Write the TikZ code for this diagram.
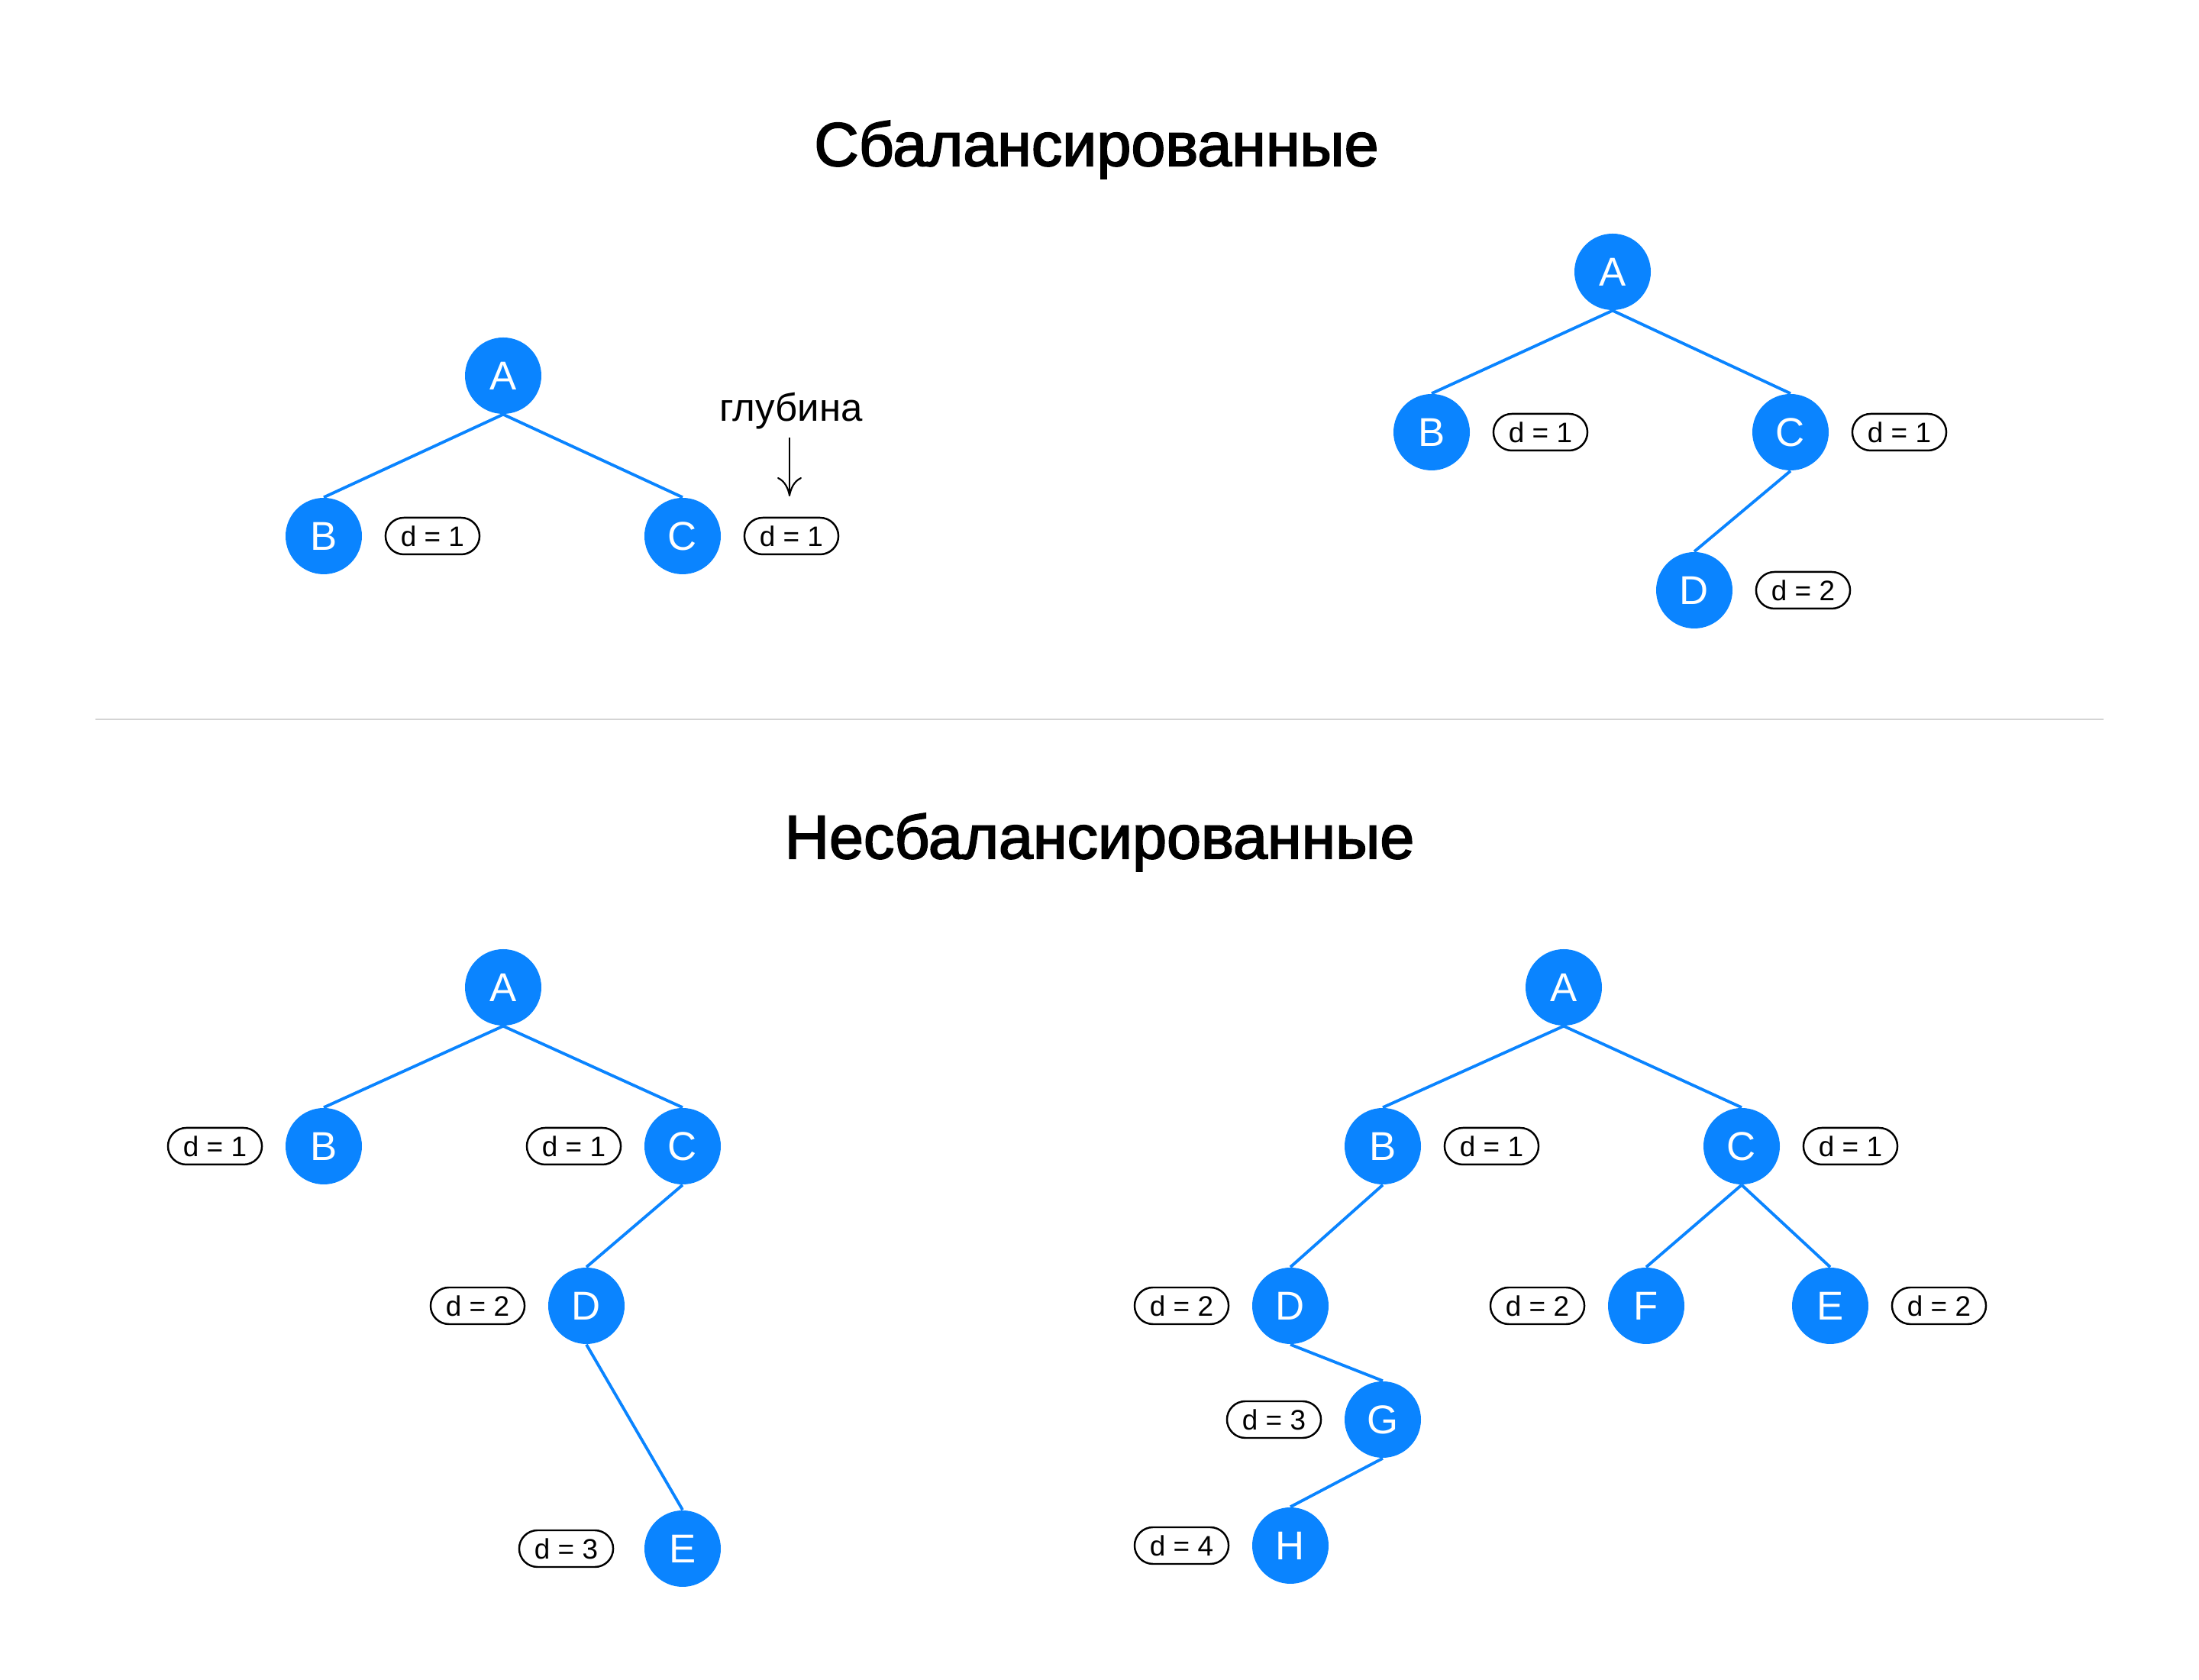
\documentclass[tikz,border=0pt]{standalone}
\usepackage{fontspec}
\setmainfont{Liberation Sans}
\newfontfamily\headfont{Liberation Sans}[FakeBold=2.2]
\usetikzlibrary{positioning,arrows.meta}
\definecolor{treeblue}{HTML}{0A84FF}
\definecolor{rulegray}{HTML}{D4D4D4}

\begin{document}
\begin{tikzpicture}[
		vertex/.style={circle,fill=treeblue,text=white,minimum size=1cm,
			inner sep=0pt,font=\fontsize{15}{18}\selectfont},
		depth/.style={draw=black,line width=0.7pt,rounded corners=0.24cm,
			minimum height=0.48cm,inner xsep=0.2cm,inner ysep=0pt,
			font=\fontsize{10.5}{12}\selectfont},
		edge/.style={treeblue,line width=1.1pt},
		title/.style={font=\headfont\fontsize{23}{28}\selectfont}
		]
		\useasboundingbox (0,0) rectangle (28.8,22);

		% balanced
		\node[title] (t1) at (14.36,20.04) {Сбалансированные};

		\node[vertex] (a1) at (6.59,17.08) {A};
		\node[vertex] (b1) at (4.24,14.98) {B};
		\node[vertex] (c1) at (8.94,14.98) {C};
		\node[depth,right=0.29cm of b1] (db1) {d = 1};
		\node[depth,right=0.29cm of c1] (dc1) {d = 1};
		\node[font=\fontsize{14.5}{17}\selectfont] (depthword) at (10.36,16.62) {глубина};
		\coordinate (depthtip) at (10.34,15.50);

		\draw[edge] (a1.south) -- (b1.north);
		\draw[edge] (a1.south) -- (c1.north);
		\draw[-{To[length=2.5mm,width=3.2mm]},line width=0.6pt] (10.34,16.27) -- (depthtip);

		\node[vertex] (a2) at (21.12,18.44) {A};
		\node[vertex] (b2) at (18.75,16.34) {B};
		\node[vertex] (c2) at (23.45,16.34) {C};
		\node[vertex] (d2) at (22.19,14.27) {D};
		\node[depth,right=0.29cm of b2] (db2) {d = 1};
		\node[depth,right=0.29cm of c2] (dc2) {d = 1};
		\node[depth,right=0.29cm of d2] (dd2) {d = 2};

		\draw[edge] (a2.south) -- (b2.north);
		\draw[edge] (a2.south) -- (c2.north);
		\draw[edge] (c2.south) -- (d2.north);

		\draw[rulegray,line width=0.6pt] (1.25,12.58) -- (27.55,12.58);

		% unbalanced
		\node[title] (t2) at (14.40,10.97) {Несбалансированные};

		\node[vertex] (a3) at (6.59,9.07) {A};
		\node[vertex] (b3) at (4.24,6.99) {B};
		\node[vertex] (c3) at (8.94,6.99) {C};
		\node[vertex] (d3) at (7.68,4.90) {D};
		\node[vertex] (e3) at (8.94,1.72) {E};
		\node[depth,left=0.29cm of b3] (db3) {d = 1};
		\node[depth,left=0.29cm of c3] (dc3) {d = 1};
		\node[depth,left=0.29cm of d3] (dd3) {d = 2};
		\node[depth,left=0.39cm of e3] (de3) {d = 3};

		\draw[edge] (a3.south) -- (b3.north);
		\draw[edge] (a3.south) -- (c3.north);
		\draw[edge] (c3.south) -- (d3.north);
		\draw[edge] (d3.south) -- (e3.north);

		\node[vertex] (a4) at (20.48,9.07) {A};
		\node[vertex] (b4) at (18.11,6.99) {B};
		\node[vertex] (c4) at (22.81,6.99) {C};
		\node[vertex] (d4) at (16.90,4.90) {D};
		\node[vertex] (f4) at (21.56,4.90) {F};
		\node[vertex] (e4) at (23.97,4.90) {E};
		\node[vertex] (g4) at (18.11,3.41) {G};
		\node[vertex] (h4) at (16.90,1.76) {H};
		\node[depth,right=0.29cm of b4] (db4) {d = 1};
		\node[depth,right=0.29cm of c4] (dc4) {d = 1};
		\node[depth,left=0.29cm of d4] (dd4) {d = 2};
		\node[depth,left=0.29cm of f4] (df4) {d = 2};
		\node[depth,right=0.29cm of e4] (de4) {d = 2};
		\node[depth,left=0.29cm of g4] (dg4) {d = 3};
		\node[depth,left=0.29cm of h4] (dh4) {d = 4};

		\draw[edge] (a4.south) -- (b4.north);
		\draw[edge] (a4.south) -- (c4.north);
		\draw[edge] (b4.south) -- (d4.north);
		\draw[edge] (c4.south) -- (f4.north);
		\draw[edge] (c4.south) -- (e4.north);
		\draw[edge] (d4.south) -- (g4.north);
		\draw[edge] (g4.south) -- (h4.north);
	\end{tikzpicture}
\end{document}
